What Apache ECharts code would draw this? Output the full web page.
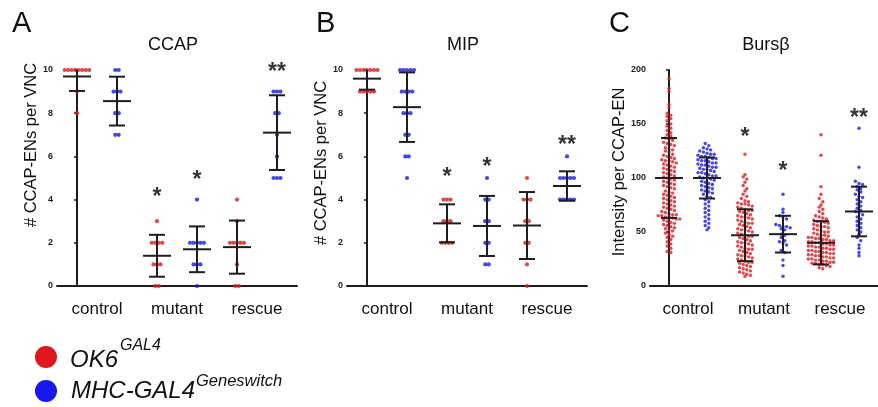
<!DOCTYPE html>
<html>
<head>
<meta charset="utf-8">
<script src="https://cdn.jsdelivr.net/npm/echarts@6/dist/echarts.min.js"></script>
<style>
  html, body { margin: 0; padding: 0; background: #fff; }
  #chart { width: 878px; height: 407px; }
</style>
</head>
<body>
<div id="chart"></div>
<script>
// groups on the x axis: each condition has an OK6 (red) and MHC (blue) column
const conditions = ["control", "mutant", "rescue"];
const lines = ["OK6", "MHC"];

// A: CCAP cell counts
const ccapControlOk6 = [10, 10, 10, 10, 10, 10, 10, 10, 9, 8];
const ccapControlMhc = [10, 10, 9, 9, 9, 8, 8, 7, 7];
const ccapMutantOk6 = [3, 2, 2, 2, 2, 1, 1, 1, 0, 0];
const ccapMutantMhc = [4, 2, 2, 2, 2, 2, 1, 1, 1, 0];
const ccapRescueOk6 = [4, 3, 2, 2, 2, 2, 2, 1, 0, 0];
const ccapRescueMhc = [9, 9, 9, 8, 8, 7, 6, 5, 5, 5];
const ccapMeans = [9.7, 8.56, 1.4, 1.7, 1.8, 7.1];
const ccapSds = [0.67, 1.13, 0.97, 1.06, 1.23, 1.73];
const ccapStars = ["", "", "*", "*", "", "**"];
const ccapStarY = [0, 0, 4.1, 4.9, 0, 9.9];

// B: MIP cell counts
const mipControlOk6 = [10, 10, 10, 10, 10, 10, 10, 9, 9, 9, 9, 9];
const mipControlMhc = [10, 10, 10, 10, 10, 9, 9, 9, 9, 8, 8, 8, 7, 7, 6, 6, 5];
const mipMutantOk6 = [4, 4, 4, 3, 3, 3, 2, 2, 2, 2];
const mipMutantMhc = [5, 4, 4, 3, 3, 2, 2, 1, 1];
const mipRescueOk6 = [5, 4, 4, 4, 3, 3, 2, 2, 1, 0];
const mipRescueMhc = [6, 5, 5, 5, 5, 5, 4, 4, 4, 4, 4];
const mipMeans = [9.6, 8.28, 2.9, 2.78, 2.8, 4.63];
const mipSds = [0.51, 1.61, 0.88, 1.39, 1.55, 0.68];
const mipStars = ["", "", "*", "*", "", "**"];
const mipStarY = [0, 0, 5.0, 5.5, 0, 6.5];

// C: Bursicon beta intensity
const bursControlOk6 = [192, 183, 180, 168, 165,
  160, 158, 157, 155, 153, 150, 148,
  146, 144, 142, 140, 139, 137, 136, 135,
  133, 132, 131, 130, 128, 127, 126, 125, 124,
  122, 121, 120, 119, 118, 117, 116, 116, 115, 114, 113, 112,
  111, 110, 109, 108, 107, 106, 105, 104, 103, 102, 101, 100,
  99, 98, 97, 96, 95, 94, 93, 92, 91, 90,
  88, 87, 86, 85, 84, 83, 82, 81, 80,
  79, 78, 77, 76, 75, 74, 73, 72, 71, 70,
  69, 68, 67, 66, 66, 65, 65, 64, 64, 63, 62, 62, 61, 60,
  59, 58, 57, 56, 55, 54, 53, 52, 51,
  49, 48, 46, 45, 43, 41, 39, 37, 35, 32, 31];
const bursControlMhc = [132, 130, 128, 127, 126, 125, 124, 123, 122, 122, 121, 120, 120,
  119, 118, 118, 117, 116, 116, 115, 114, 114, 113, 112, 112, 111, 110, 110,
  109, 108, 108, 107, 106, 105, 105, 104, 103, 102, 102, 101, 100, 100,
  99, 98, 97, 96, 95, 94, 93, 92, 91, 90, 89, 88, 87, 86, 85, 83, 82, 80,
  78, 76, 74, 72, 70, 68, 66, 64, 62, 60, 58, 56, 54, 52];
const bursMutantOk6 = [122, 103, 101, 99, 96, 93, 90, 88, 85, 83, 81, 79, 78, 77, 76, 76,
  75, 74, 73, 72, 71, 70, 70, 69, 68, 67, 66, 65, 64, 64, 63, 62, 61, 60,
  59, 58, 58, 57, 56, 55, 54, 53, 52, 52, 51, 50, 49, 48, 47, 46, 46, 45,
  44, 43, 42, 41, 40, 40, 39, 38, 37, 36, 35, 34, 34, 33, 32, 31, 30, 29,
  28, 28, 27, 26, 25, 24, 23, 22, 22, 21, 20, 19, 18, 17, 16, 15, 14, 13, 12, 11, 10, 9];
const bursMutantMhc = [85, 71, 68, 65, 64, 62, 57, 56, 55, 55, 54, 53, 52, 48, 47, 45,
  42, 41, 40, 38, 33, 31, 24, 19, 9];
const bursRescueOk6 = [140, 121, 92, 85, 81, 78, 75, 73, 71, 69, 67, 65, 64, 63, 62, 61,
  60, 60, 59, 58, 57, 56, 55, 55, 54, 53, 52, 51, 50, 50, 49, 48, 47, 47,
  46, 45, 45, 44, 44, 43, 43, 42, 42, 41, 41, 40, 40, 39, 39, 38, 38, 37, 37,
  36, 36, 35, 35, 34, 34, 33, 33, 32, 32, 31, 31, 30, 30, 29, 29, 28, 28,
  27, 27, 26, 26, 25, 25, 24, 24, 23, 23, 22, 22, 21, 21, 20, 20, 19, 18, 17, 16];
const bursRescueMhc = [146, 110, 97, 95, 94, 92, 90, 89, 87, 85, 83, 82, 80, 78, 76, 74,
  72, 70, 69, 68, 66, 64, 62, 60, 58, 56, 54, 52, 50, 48, 45, 42, 38, 35, 31, 28];
const bursMeans = [100, 100, 47, 48, 40, 69];
const bursSds = [37, 19, 24, 17, 20, 23];
const bursStars = ["", "", "*", "*", "", "**"];
const bursStarY = [0, 0, 137, 106, 0, 155];

const RED = "#e3161c";
const BLUE = "#1717f2";
const INK = "#1e1e1e";
const FONT = "'Liberation Sans', Arial, Helvetica, sans-serif";

const panels = [
  {
    letter: "A", title: "CCAP", yName: "# CCAP-ENs per VNC", left: 57, letterX: 12, nameY: 145,
    max: 10, interval: 2, bin: 1, step: 0.0875, dot: 4.2,
    groups: [ccapControlOk6, ccapControlMhc, ccapMutantOk6, ccapMutantMhc, ccapRescueOk6, ccapRescueMhc],
    means: ccapMeans, sds: ccapSds, stars: ccapStars, starY: ccapStarY
  },
  {
    letter: "B", title: "MIP", yName: "# CCAP-ENs per VNC", left: 347, letterX: 316, nameY: 163,
    max: 10, interval: 2, bin: 1, step: 0.0875, dot: 4.2,
    groups: [mipControlOk6, mipControlMhc, mipMutantOk6, mipMutantMhc, mipRescueOk6, mipRescueMhc],
    means: mipMeans, sds: mipSds, stars: mipStars, starY: mipStarY
  },
  {
    letter: "C", title: "Burs\u03b2", yName: "Intensity per CCAP-EN", left: 650, letterX: 609, nameY: 172,
    max: 200, interval: 50, bin: 4, step: 0.095, dot: 3.4,
    groups: [bursControlOk6, bursControlMhc, bursMutantOk6, bursMutantMhc, bursRescueOk6, bursRescueMhc],
    means: bursMeans, sds: bursSds, stars: bursStars, starY: bursStarY
  }
];

const TOP = 70, HEIGHT = 216, WIDTH = 240;

// spread equal-ish values sideways, like a column scatter plot
function swarm(values, center, binSize, step) {
  const bins = new Map();
  values.slice().sort((a, b) => b - a).forEach(v => {
    const k = Math.round(v / binSize);
    if (!bins.has(k)) bins.set(k, []);
    bins.get(k).push(v);
  });
  const out = [];
  bins.forEach(list => {
    list.forEach((v, k) => out.push([center + (k - (list.length - 1) / 2) * step, v]));
  });
  return out;
}

const grid = [], xAxis = [], yAxis = [], series = [], graphic = [];
const slotNames = conditions.flatMap(c => lines.map(l => c + " " + l));

panels.forEach((p, pi) => {
  grid.push({ left: p.left, top: TOP, width: WIDTH, height: HEIGHT });

  // hidden numeric axis for placing dots and bars
  xAxis.push({ type: "value", gridIndex: pi, min: -0.5, max: 5.5, show: false });
  // visible axis line with a tick under every column
  xAxis.push({
    type: "category", gridIndex: pi, data: slotNames, position: "bottom", boundaryGap: true,
    axisLine: { onZero: false, lineStyle: { color: INK, width: 2 } },
    axisTick: { alignWithLabel: true, length: 5, lineStyle: { color: INK, width: 1.5 } },
    axisLabel: { show: false }, splitLine: { show: false }
  });
  // condition labels, one per pair of columns
  xAxis.push({
    type: "category", gridIndex: pi, data: conditions, position: "bottom", boundaryGap: true,
    axisLine: { show: false, onZero: false }, axisTick: { show: false },
    axisLabel: { color: "#111", fontSize: 17, fontFamily: FONT, margin: 15 },
    splitLine: { show: false }
  });

  yAxis.push({
    type: "value", gridIndex: pi, min: 0, max: p.max, interval: p.interval,
    axisLine: { show: true, lineStyle: { color: INK, width: 2 } },
    axisTick: { show: true, length: 3, lineStyle: { color: INK, width: 1.5 } },
    axisLabel: { color: "#222", fontSize: 9, fontWeight: "bold", fontFamily: FONT, margin: 4 },
    splitLine: { show: false }
  });

  const redPts = [], bluePts = [];
  p.groups.forEach((vals, gi) => {
    const pts = swarm(vals, gi, p.bin, p.step);
    (gi % 2 === 0 ? redPts : bluePts).push(...pts);
  });

  [[redPts, RED], [bluePts, BLUE]].forEach(([pts, color]) => {
    series.push({
      type: "scatter", xAxisIndex: pi * 3, yAxisIndex: pi, data: pts,
      symbol: "circle", symbolSize: p.dot, itemStyle: { color: color },
      silent: true, z: 2
    });
  });

  // mean +/- SD bars
  series.push({
    type: "custom", xAxisIndex: pi * 3, yAxisIndex: pi, clip: true, z: 3, silent: true,
    data: p.means.map((m, i) => [i, m, p.sds[i]]),
    renderItem: (params, api) => {
      const x = api.value(0), m = api.value(1), s = api.value(2);
      const c = api.coord([x, m]);
      const hi = api.coord([x, m + s]);
      const lo = api.coord([x, m - s]);
      const st = { stroke: INK, lineWidth: 2 };
      return {
        type: "group",
        children: [
          { type: "line", shape: { x1: c[0], y1: hi[1], x2: c[0], y2: lo[1] }, style: st },
          { type: "line", shape: { x1: c[0] - 8, y1: hi[1], x2: c[0] + 8, y2: hi[1] }, style: st },
          { type: "line", shape: { x1: c[0] - 8, y1: lo[1], x2: c[0] + 8, y2: lo[1] }, style: st },
          { type: "line", shape: { x1: c[0] - 14, y1: c[1], x2: c[0] + 14, y2: c[1] }, style: st }
        ]
      };
    }
  });

  // significance stars
  series.push({
    type: "scatter", xAxisIndex: pi * 3, yAxisIndex: pi, silent: true, z: 4,
    symbolSize: 1, itemStyle: { color: "rgba(0,0,0,0)" },
    data: p.stars.map((s, i) => ({ name: s, value: [i, p.starY[i]] })).filter(d => d.name),
    label: {
      show: true, position: "inside", formatter: "{b}", color: "#000",
      fontSize: 23, fontWeight: "bold", fontFamily: FONT
    }
  });

  const cx = p.left + WIDTH / 2;
  graphic.push({
    type: "text", x: cx - 4, y: 45,
    style: { text: p.title, font: "18px " + FONT, fill: "#111", textAlign: "center", textVerticalAlign: "middle" }
  });
  graphic.push({
    type: "text", x: p.letterX, y: 24,
    style: { text: p.letter, font: "29px " + FONT, fill: "#111", textAlign: "left", textVerticalAlign: "middle" }
  });
  graphic.push({
    type: "text", x: p.left - (pi === 2 ? 31 : 26), y: p.nameY, rotation: Math.PI / 2,
    style: { text: p.yName, font: "16.5px " + FONT, fill: "#111", textAlign: "center", textVerticalAlign: "middle" }
  });
});

// legend
graphic.push(
  { type: "circle", shape: { cx: 46, cy: 357, r: 11 }, style: { fill: RED } },
  { type: "circle", shape: { cx: 46, cy: 391, r: 11 }, style: { fill: BLUE } },
  { type: "text", x: 70, y: 360, style: { text: "OK6", font: "italic 24px " + FONT, fill: "#111", textVerticalAlign: "middle" } },
  { type: "text", x: 120, y: 346, style: { text: "GAL4", font: "italic 16px " + FONT, fill: "#111", textVerticalAlign: "middle" } },
  { type: "text", x: 71, y: 391, style: { text: "MHC-GAL4", font: "italic 24px " + FONT, fill: "#111", textVerticalAlign: "middle" } },
  { type: "text", x: 196, y: 381, style: { text: "Geneswitch", font: "italic 16.5px " + FONT, fill: "#111", textVerticalAlign: "middle" } }
);

const chart = echarts.init(document.getElementById("chart"), null, { renderer: "canvas" });
chart.setOption({
  animation: false,
  backgroundColor: "#fff",
  grid: grid,
  xAxis: xAxis,
  yAxis: yAxis,
  series: series,
  graphic: graphic
});
</script>
</body>
</html>
